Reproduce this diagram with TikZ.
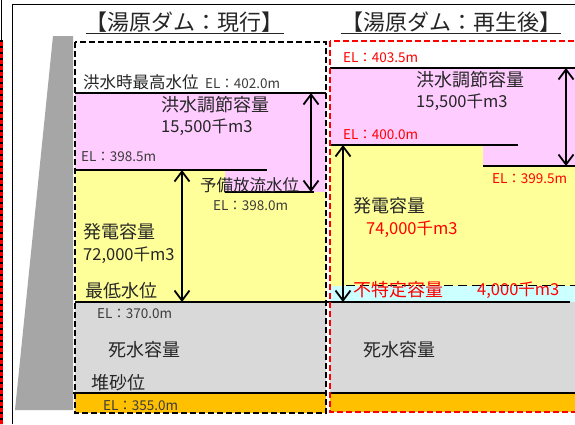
\documentclass[tikz,border=0pt]{standalone}
\usepackage{fontspec}
\newfontfamily\jp{Noto Sans CJK JP}
\usetikzlibrary{arrows.meta}
\definecolor{pinkc}{HTML}{FFCCFF}
\definecolor{yelc}{HTML}{FFFF99}
\definecolor{greyc}{HTML}{D9D9D9}
\definecolor{orc}{HTML}{FFC000}
\definecolor{cyc}{HTML}{CCFFFF}
\definecolor{damc}{HTML}{A6A6A6}
\definecolor{txt}{HTML}{262626}
\definecolor{redc}{HTML}{FF0000}
\newcommand\jfs[1]{\fontsize{#1}{#1}\selectfont}
\tikzset{
  lbl/.style={inner sep=0pt, anchor=west, text=txt, font=\jp\jfs{18}},
  lbls/.style={lbl, font=\jp\jfs{16.5}},
  num/.style={lbl, font=\jp\jfs{16.5}},
  el/.style={lbl, font=\jp\jfs{13.5}, text=txt!90},
  elr/.style={el, text=redc},
  ttl/.style={inner sep=0pt, anchor=center, text=txt, font=\jp\jfs{22}},
  lvl/.style={line width=1.8pt, black},
  dbl/.style={line width=1.8pt, black, {Straight Barb[length=10pt,width=15pt]}-{Straight Barb[length=10pt,width=15pt]}},
  bbox/.style={line width=1.8pt, dash pattern=on 6pt off 3pt},
}
\begin{document}
\begin{tikzpicture}[x=1pt,y=-1pt]
\useasboundingbox (0,0) rectangle (575,424);
\clip (0,0) rectangle (575,424);
\fill[white] (0,0) rectangle (575,424);
% left edge remnants
\fill[orc] (0,393) rectangle (2,412);
\draw[line width=1.5pt, black] (1.5,0) -- (1.5,40);
\draw[line width=2.2pt, redc] (1.5,40) -- (1.5,424);
\draw[line width=2.2pt, black, dash pattern=on 2pt off 4pt] (1.5,40) -- (1.5,424);
% frame
\draw[line width=1.5pt, black] (12.5,424) -- (12.5,4.5) -- (580,4.5);
% dam
\fill[damc] (53,36) -- (73,36) -- (73,410) -- (15,410) -- cycle;
% left panel fills
\fill[pinkc] (75,93) rectangle (326,192);
\fill[yelc] (75,170) -- (225,170) -- (225,192) -- (326,192) -- (326,302) -- (75,302) -- cycle;
\fill[greyc] (75,302) rectangle (326,393);
\fill[orc] (75,393) rectangle (326,413);
% right panel fills
\fill[pinkc] (330,68) rectangle (580,166);
\fill[yelc] (330,145) -- (483,145) -- (483,166) -- (580,166) -- (580,286) -- (330,286) -- cycle;
\fill[cyc] (330,286) rectangle (580,302);
\fill[greyc] (330,302) rectangle (580,393);
\fill[orc] (330,393) rectangle (580,412);
% level lines
\draw[lvl] (75,93) -- (326,93);
\draw[lvl] (75,170) -- (267,170);
\draw[lvl] (225,192) -- (314,192);
\draw[lvl] (75,302) -- (570,302);
\draw[lvl] (73,393) -- (326,393);
\draw[lvl] (330,393) -- (580,393);
\draw[lvl] (330,68) -- (580,68);
\draw[lvl] (330,145) -- (518,145);
\draw[lvl] (483,166) -- (580,166);
\draw[lvl, dash pattern=on 9pt off 5pt] (346,285.5) -- (580,285.5);
% arrows
\coordinate (a1t) at (182,170); \coordinate (a1b) at (182,302);
\coordinate (a2t) at (311,93);  \coordinate (a2b) at (311,192);
\coordinate (a3t) at (343,145); \coordinate (a3b) at (343,302);
\coordinate (a4t) at (566,68);  \coordinate (a4b) at (566,166);
\draw[dbl] (a1t) -- (a1b);
\draw[dbl] (a2t) -- (a2b);
\draw[dbl] (a3t) -- (a3b);
\draw[dbl] (a4t) -- (a4b);
% dashed boxes
\draw[bbox, black] (75,42) rectangle (326,413);
\draw[bbox, redc] (330,41) rectangle (585,412);
% titles
\node[ttl] (t1) at (184.5,23) {\underline{【湯原ダム：現行】}};
\node[ttl] (t2) at (451,23) {\underline{【湯原ダム：再生後】}};
% left labels
\node[lbls] (lmax) at (83,82) {洪水時最高水位};
\node[el] (l4020) at (205,84) {EL：402.0m};
\node[lbl] (lfc) at (161,105) {洪水調節容量};
\node[num] (lfcv) at (161,127) {15,500千m3};
\node[el] (l3985) at (81,157) {EL：398.5m};
\node[lbls] (lyobi) at (200,185) {予備放流水位};
\node[el] (l3980) at (213,205.5) {EL：398.0m};
\node[lbl] (lgen) at (83,232) {発電容量};
\node[num] (lgenv) at (83,255) {72,000千m3};
\node[lbl] (lmin) at (85,291) {最低水位};
\node[el] (l3700) at (97,314) {EL：370.0m};
\node[lbl] (ldead) at (108,350) {死水容量};
\node[lbl] (lsed) at (91,383) {堆砂位};
\node[el] (l3550) at (103,406) {EL：355.0m};
% right labels
\node[elr] (r4035) at (343,58) {EL：403.5m};
\node[lbl] (rfc) at (416,80) {洪水調節容量};
\node[num] (rfcv) at (416,102) {15,500千m3};
\node[elr] (r4000) at (343,135) {EL：400.0m};
\node[elr] (r3995) at (492,179) {EL：399.5m};
\node[lbl] (rgen) at (353,206) {発電容量};
\node[num, text=redc] (rgenv) at (366,229) {74,000千m3};
\node[lbl, text=redc] (rfut) at (353,290) {不特定容量};
\node[num, text=redc] (rfutv) at (477,290) {4,000千m3};
\node[lbl] (rdead) at (363,350) {死水容量};
\end{tikzpicture}
\end{document}
